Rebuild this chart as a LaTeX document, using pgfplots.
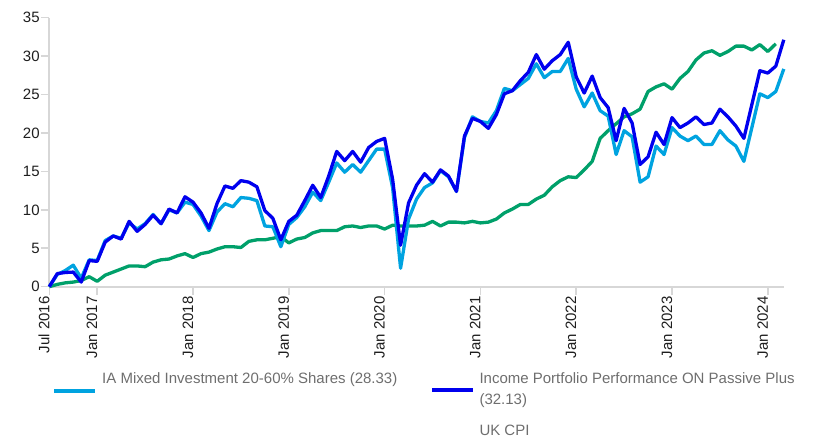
\documentclass[border=0pt]{standalone}
\usepackage{pgfplots}
\usepackage{pgfplotstable}
\pgfplotsset{compat=1.18}
\usepackage{fontspec}
\setmainfont{Liberation Sans}
\definecolor{iablue}{RGB}{0,163,224}
\definecolor{incblue}{RGB}{0,0,238}
\definecolor{cpigreen}{RGB}{0,160,106}
\definecolor{axisgray}{RGB}{215,215,215}
\definecolor{leggray}{RGB}{110,110,110}
\definecolor{ticktext}{RGB}{30,30,30}
\pgfplotstableread{
m ia inc cpi
0 0 0 0
1 1.6 1.7 0.3
2 2.1 1.85 0.5
3 2.8 1.9 0.6
4 1.1 0.6 0.8
5 3.5 3.4 1.3
6 3.4 3.3 0.7
7 6.0 5.8 1.5
8 6.6 6.6 1.9
9 6.3 6.2 2.3
10 8.3 8.5 2.7
11 7.5 7.2 2.7
12 8.2 8.1 2.6
13 9.4 9.3 3.2
14 8.2 8.2 3.5
15 10.0 10.1 3.6
16 9.6 9.6 4.0
17 11.0 11.7 4.3
18 10.7 11.0 3.8
19 9.2 9.6 4.3
20 7.3 7.6 4.5
21 9.7 10.8 4.9
22 10.8 13.1 5.2
23 10.4 12.8 5.2
24 11.6 13.8 5.1
25 11.5 13.6 5.9
26 11.2 13.0 6.1
27 7.9 9.9 6.1
28 7.8 8.9 6.3
29 5.2 6.1 6.5
30 8.1 8.5 5.7
31 9.0 9.3 6.2
32 10.4 11.2 6.4
33 12.3 13.2 7.0
34 11.2 11.6 7.3
35 13.6 14.4 7.3
36 16.1 17.6 7.3
37 14.9 16.4 7.8
38 15.9 17.6 7.9
39 14.9 16.2 7.7
40 16.4 18.1 7.9
41 17.9 18.9 7.9
42 17.9 19.3 7.5
43 12.9 14.0 8.0
44 2.4 5.4 7.9
45 8.8 10.9 7.9
46 11.4 13.2 7.9
47 12.9 14.7 8.0
48 13.5 13.6 8.5
49 15.1 15.2 7.9
50 14.3 14.4 8.4
51 12.4 12.4 8.4
52 19.4 19.6 8.3
53 22.1 21.9 8.5
54 21.5 21.5 8.3
55 21.3 20.6 8.4
56 22.9 22.4 8.8
57 25.8 25.1 9.6
58 25.5 25.5 10.1
59 26.3 26.8 10.7
60 27.1 27.9 10.7
61 29.0 30.2 11.4
62 27.2 28.3 11.9
63 28.0 29.4 13.0
64 28.0 30.2 13.8
65 29.7 31.8 14.3
66 25.7 27.3 14.2
67 23.4 25.2 15.2
68 25.2 27.4 16.3
69 22.9 24.6 19.3
70 22.2 23.3 20.3
71 17.2 19.0 21.2
72 20.3 23.2 22.1
73 19.5 21.3 22.5
74 13.6 15.9 23.1
75 14.3 16.9 25.4
76 18.3 20.1 26.0
77 17.2 18.5 26.4
78 20.7 22.0 25.7
79 19.6 20.7 27.1
80 19.0 21.3 28.0
81 19.6 22.1 29.5
82 18.5 21.1 30.4
83 18.5 21.3 30.7
84 20.3 23.1 30.1
85 19.1 22.1 30.6
86 18.3 20.9 31.3
87 16.3 19.3 31.3
88 20.7 23.7 30.8
89 25.1 28.1 31.5
90 24.6 27.8 30.6
91 25.4 28.7 31.6
92 28.33 32.13 nan
}\datatable
\begin{document}
\begin{tikzpicture}[x=1pt,y=1pt]
\useasboundingbox (0,0) rectangle (816,438);
\begin{axis}[
  at={(49.3pt,151.3pt)}, anchor=south west,
  scale only axis, width=734.5pt, height=269pt,
  xmin=0, xmax=92, ymin=0, ymax=35,
  axis lines=left,
  axis line style={draw=axisgray, line width=2pt, -},
  tick style={draw=axisgray, line width=1.6pt},
  major tick length=8.5pt,
  tick align=outside,
  ytick={0,5,...,35},
  xtick={0,6,18,30,42,54,66,78,90},
  xticklabels={Jul 2016,Jan 2017,Jan 2018,Jan 2019,Jan 2020,Jan 2021,Jan 2022,Jan 2023,Jan 2024},
  /pgf/number format/assume math mode=true,
  tick label style={font=\fontsize{15}{18}\selectfont, text=ticktext},
  xticklabel style={rotate=90, anchor=base east, inner sep=1pt},
  yticklabel style={inner sep=1pt},
  unbounded coords=discard,
  clip=false,
]
\addplot[cpigreen, line width=3.3pt, line join=round] table[x=m, y=cpi] {\datatable};
\addplot[iablue, line width=3.3pt, line join=round] table[x=m, y=ia] {\datatable};
\addplot[incblue, line width=3.3pt, line join=round] table[x=m, y=inc] {\datatable};
\end{axis}
\draw[iablue, line width=3.5pt] (54,47) -- (95,47);
\draw[incblue, line width=3.5pt] (432,48) -- (473,48);
\begin{scope}[every node/.style={inner sep=0pt, anchor=base west, text=leggray, font=\fontsize{15}{18}\selectfont}]
\node at (102,54) {IA Mixed Investment 20-60\% Shares (28.33)};
\node at (479.3,54) {Income Portfolio Performance ON Passive Plus};
\node at (479.3,33.5) {(32.13)};
\node at (479.3,2.5) {UK CPI};
\end{scope}
\end{tikzpicture}
\end{document}
